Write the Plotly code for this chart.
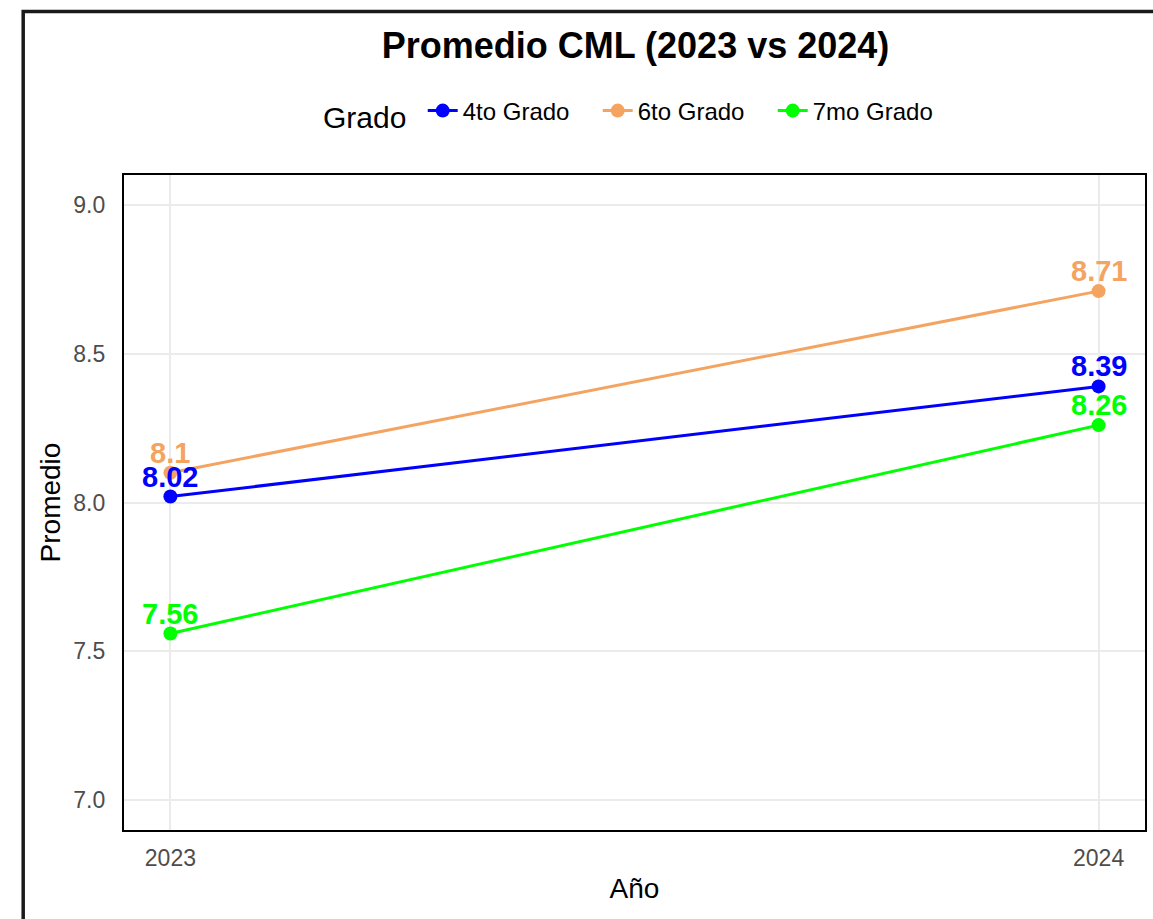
import plotly.graph_objects as go

years = [2023, 2024]
grados = ["4to Grado", "6to Grado", "7mo Grado"]
valores = {
    "4to Grado": [8.02, 8.39],
    "6to Grado": [8.10, 8.71],
    "7mo Grado": [7.56, 8.26],
}
colores = {
    "4to Grado": "#0000FF",
    "6to Grado": "#F4A460",
    "7mo Grado": "#00FF00",
}
y_ticks = [7.0, 7.5, 8.0, 8.5, 9.0]
y_tick_labels = ["7.0", "7.5", "8.0", "8.5", "9.0"]

FONT = "Liberation Sans, Arial, sans-serif"

fig = go.Figure()
for g in grados:
    vals = valores[g]
    fig.add_trace(go.Scatter(
        x=years, y=vals, name=g, mode="lines+markers",
        line=dict(color=colores[g], width=3),
        marker=dict(color=colores[g], size=14),
        cliponaxis=False,
    ))
    for x, v in zip(years, vals):
        fig.add_annotation(x=x, y=v, text=f"<b>{v:g}</b>", showarrow=False,
                           yshift=20, yanchor="middle", xanchor="center",
                           font=dict(family=FONT, size=29, color=colores[g]))

W, H = 1153, 919
L, R, T, B = 124, 6, 175, 89
pw, ph = W - L - R, H - T - B

fig.update_layout(
    width=W, height=H,
    margin=dict(l=L, r=R, t=T, b=B),
    paper_bgcolor="white", plot_bgcolor="white",
    font=dict(family=FONT, color="black"),
    title=dict(text="<b>Promedio CML (2023 vs 2024)</b>", x=(L + pw / 2) / W, xanchor="center",
               y=1 - 45 / H, yanchor="middle", yref="container",
               font=dict(family=FONT, size=36, color="black")),
    legend=dict(orientation="h", x=0.5, xanchor="center", y=(830 - 113) / ph, yanchor="middle",
                valign="middle",
                title=dict(text="Grado ", side="left", font=dict(size=30, color="black")),
                font=dict(size=24, color="black"), itemwidth=30,
                entrywidth=130, entrywidthmode="pixels"),
    showlegend=True,
    xaxis=dict(range=[2022.95, 2024.05], tickvals=years, ticktext=[str(y) for y in years],
               showgrid=True, gridcolor="#EBEBEB", gridwidth=1.5, zeroline=False,
               showline=True, mirror=True, linecolor="black", linewidth=2.2,
               ticks="", ticklabelstandoff=6,
               tickfont=dict(size=23, color="#4D4D4D"),
               title=dict(text="Año", font=dict(size=28, color="black"), standoff=9)),
    yaxis=dict(range=[6.9, 9.1], tickvals=y_ticks, ticktext=y_tick_labels,
               showgrid=True, gridcolor="#EBEBEB", gridwidth=1.5, zeroline=False,
               showline=True, mirror=True, linecolor="black", linewidth=2.2,
               ticks="", ticklabelstandoff=12,
               tickfont=dict(size=23, color="#4D4D4D"),
               title=dict(text="Promedio", font=dict(size=28, color="black"), standoff=5)),
)

# outer image frame
fig.add_shape(type="rect", xref="paper", yref="paper",
              x0=(23 - L) / pw, x1=1.2, y0=-0.4, y1=(830 - 11.5) / ph,
              line=dict(color="#1a1a1a", width=3.5), fillcolor="rgba(0,0,0,0)", layer="above")

fig.write_html("out.html", config={"displayModeBar": False},
               post_script="document.body.style.margin='0';document.body.style.overflow='hidden';")
